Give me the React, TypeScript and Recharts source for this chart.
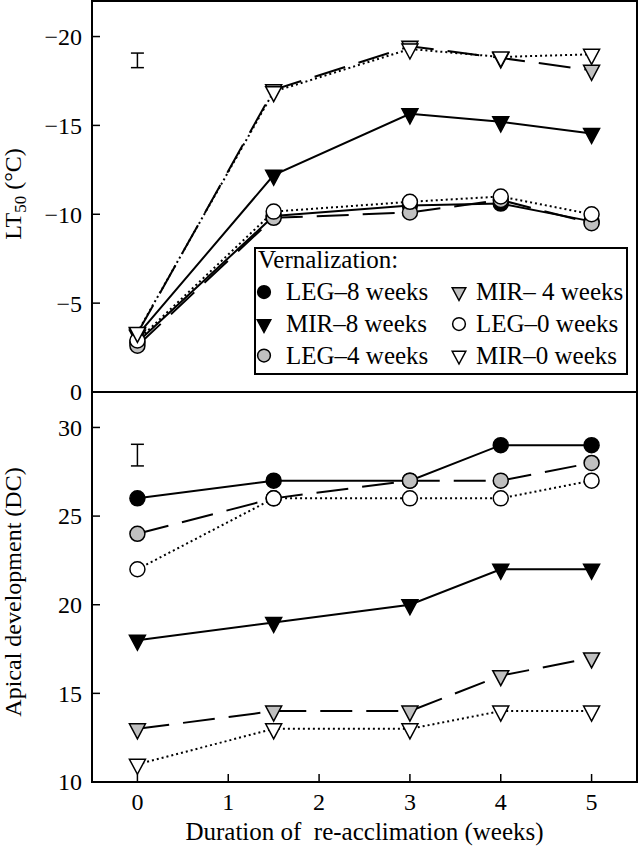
import React from 'react';
import { ComposedChart, Line, XAxis, YAxis, ReferenceArea, Scatter, ErrorBar, Legend } from 'recharts';

// ---- data ----
const weeks = [0, 1.5, 3, 4, 5];
const xTicks = [0, 1, 2, 3, 4, 5];
const seriesNames = ['LEG–8 weeks', 'MIR–8 weeks', 'LEG–4 weeks', 'MIR– 4 weeks', 'LEG–0 weeks', 'MIR–0 weeks'];
const legendTitle = 'Vernalization:';

// LT50 (°C)
const ltLEG8 = [-2.8, -9.9, -10.5, -10.6, -9.6];
const ltMIR8 = [-3.2, -12.2, -15.65, -15.2, -14.55];
const ltLEG4 = [-2.6, -9.8, -10.1, -10.8, -9.5];
const ltMIR4 = [-3.3, -17.0, -19.45, -18.8, -18.1];
const ltLEG0 = [-2.9, -10.15, -10.7, -11.0, -10.0];
const ltMIR0 = [-3.35, -16.9, -19.3, -18.85, -19.0];
const ltTicks = [0, -5, -10, -15, -20];
const ltErr = [{ x: 0, y: -18.66, err: 0.41 }];

// Apical development (DC)
const dcLEG8 = [26, 27, 27, 29, 29];
const dcMIR8 = [18, 19, 20, 22, 22];
const dcLEG4 = [24, 26, 27, 27, 28];
const dcMIR4 = [13, 14, 14, 16, 17];
const dcLEG0 = [22, 26, 26, 26, 27];
const dcMIR0 = [11, 13, 13, 14, 14];
const dcTicks = [10, 15, 20, 25, 30];
const dcErr = [{ x: 0, y: 28.44, err: 0.61 }];

const keys = ['leg8', 'mir8', 'leg4', 'mir4', 'leg0', 'mir0'];
const topSeries = [ltLEG8, ltMIR8, ltLEG4, ltMIR4, ltLEG0, ltMIR0];
const botSeries = [dcLEG8, dcMIR8, dcLEG4, dcMIR4, dcLEG0, dcMIR0];

const buildRows = (series: number[][]) =>
  weeks.map((w, i) => {
    const row: any = { x: w };
    keys.forEach((k, j) => (row[k] = series[j][i]));
    return row;
  });
const topRows = buildRows(topSeries);
const botRows = buildRows(botSeries);

// ---- styles ----
const FONT = '"Liberation Serif", "DejaVu Serif", serif';
const GRAY = '#c0c0c0';
const styles = [
  { shape: 'circle', fill: '#000', dash: undefined as string | undefined },
  { shape: 'tri', fill: '#000', dash: undefined },
  { shape: 'circle', fill: GRAY, dash: '32 14' },
  { shape: 'tri', fill: GRAY, dash: '32 14' },
  { shape: 'circle', fill: '#fff', dash: '2 3' },
  { shape: 'tri', fill: '#fff', dash: '2 3' },
];

const Marker = ({ cx, cy, shape, fill, s = 1 }: any) => {
  if (shape === 'circle') {
    return <circle cx={cx} cy={cy} r={7.5 * s} fill={fill} stroke="#000" strokeWidth={1.5} />;
  }
  const w = 8 * s, t = 5 * s, b = 10 * s;
  return (
    <path
      d={`M${cx - w},${cy - t}L${cx + w},${cy - t}L${cx},${cy + b}Z`}
      fill={fill}
      stroke="#000"
      strokeWidth={1.5}
    />
  );
};

const XTick = (props: any) => {
  const { x, y, payload, showLabel } = props;
  return (
    <g>
      <line x1={x} x2={x} y1={y} y2={y - 8} stroke="#000" strokeWidth={1.5} />
      {showLabel && (
        <text x={x} y={y + 28} textAnchor="middle" fontSize={24} fontFamily={FONT} fill="#000">
          {payload.value}
        </text>
      )}
    </g>
  );
};

const fmt = (v: number) => (v < 0 ? '\u2212' + Math.abs(v) : String(v));

const YTick = (props: any) => {
  const { x, y, payload } = props;
  return (
    <g>
      <line x1={x} x2={x + 8} y1={y} y2={y} stroke="#000" strokeWidth={1.5} />
      <text x={x - 10} y={y} dy="0.35em" textAnchor="end" fontSize={24} fontFamily={FONT} fill="#000">
        {fmt(payload.value)}
      </text>
    </g>
  );
};

const LegendBox = () => {
  const rows = [45, 77, 108.5];
  const cols = [
    { mx: 10, tx: 32 },
    { mx: 205, tx: 222 },
  ];
  return (
    <svg width={375} height={129} style={{ display: 'block' }}>
      <rect x={1} y={1} width={372} height={126} fill="#fff" stroke="#000" strokeWidth={2} />
      <text x={4} y={21} fontSize={25} fontFamily={FONT} fill="#000">
        {legendTitle}
      </text>
      {seriesNames.map((name, i) => {
        const col = cols[Math.floor(i / 3)];
        const ry = rows[i % 3];
        const st = styles[i];
        return (
          <g key={name}>
            <Marker cx={col.mx} cy={ry} shape={st.shape} fill={st.fill} s={0.85} />
            <text x={col.tx} y={ry + 8} fontSize={25} fontFamily={FONT} fill="#000" style={{ whiteSpace: 'pre' }}>
              {name}
            </text>
          </g>
        );
      })}
    </svg>
  );
};

const renderLines = () =>
  keys.map((k, i) => {
    const st = styles[i];
    return (
      <Line
        key={k}
        dataKey={k}
        stroke="#000"
        strokeWidth={2}
        strokeDasharray={st.dash}
        isAnimationActive={false}
        activeDot={false}
        legendType="none"
        dot={(p: any) => <Marker key={`${k}-${p.index}`} cx={p.cx} cy={p.cy} shape={st.shape} fill={st.fill} />}
      />
    );
  });

export default function App() {
  return (
    <div style={{ position: 'absolute', left: 0, top: 0, width: 640, height: 853, background: '#fff' }}>
      <div style={{ position: 'absolute', left: 0, top: 390 }}>
        <ComposedChart width={640} height={463} data={botRows} margin={{ top: 2, right: 3, bottom: 0, left: 0 }}>
          <XAxis
            dataKey="x"
            type="number"
            domain={[-0.5, 5.5]}
            ticks={xTicks}
            interval={0}
            allowDataOverflow
            height={71}
            axisLine={false}
            tickLine={false}
            tickSize={0}
            tickMargin={0}
            tick={(p: any) => <XTick {...p} showLabel />}
            label={{
              content: (lp: any) => {
                const vb = lp.viewBox || { x: 92, y: 392, width: 545 };
                return (
                  <text
                    x={vb.x + vb.width / 2}
                    y={vb.y + 58}
                    textAnchor="middle"
                    fontSize={25}
                    fontFamily={FONT}
                    fill="#000"
                    style={{ whiteSpace: 'pre' }}
                  >
                    Duration of  re-acclimation (weeks)
                  </text>
                );
              },
            }}
          />
          <YAxis
            type="number"
            domain={[10, 32]}
            ticks={dcTicks}
            interval={0}
            allowDataOverflow
            width={92}
            axisLine={false}
            tickLine={false}
            tickSize={0}
            tickMargin={0}
            tick={(p: any) => <YTick {...p} />}
            label={{
              content: () => (
                <text
                  x={21}
                  y={202}
                  transform="rotate(-90 21 202)"
                  textAnchor="middle"
                  fontSize={24}
                  fontFamily={FONT}
                  fill="#000"
                >
                  Apical development (DC)
                </text>
              ),
            }}
          />
          <ReferenceArea x1={-0.5} x2={5.5} y1={10} y2={32} fill="none" stroke="#000" strokeWidth={2} />
          <Scatter data={dcErr} dataKey="y" isAnimationActive={false} legendType="none" shape={() => <g />}>
            <ErrorBar dataKey="err" direction="y" width={6.5} stroke="#000" strokeWidth={1.5} isAnimationActive={false} />
          </Scatter>
          {renderLines()}
        </ComposedChart>
      </div>
      <div style={{ position: 'absolute', left: 0, top: 0 }}>
        <ComposedChart width={640} height={406} data={topRows} margin={{ top: 1, right: 3, bottom: 14, left: 0 }}>
          <XAxis
            dataKey="x"
            type="number"
            domain={[-0.5, 5.5]}
            ticks={xTicks}
            interval={0}
            allowDataOverflow
            height={0}
            axisLine={false}
            tickLine={false}
            tickSize={0}
            tickMargin={0}
            tick={(p: any) => <XTick {...p} showLabel={false} />}
          />
          <YAxis
            type="number"
            domain={[-22, 0]}
            reversed
            ticks={ltTicks}
            interval={0}
            allowDataOverflow
            width={92}
            axisLine={false}
            tickLine={false}
            tickSize={0}
            tickMargin={0}
            tick={(p: any) => <YTick {...p} />}
            label={{
              content: () => (
                <text
                  x={21}
                  y={194}
                  transform="rotate(-90 21 194)"
                  textAnchor="middle"
                  fontSize={24}
                  fontFamily={FONT}
                  fill="#000"
                >
                  LT<tspan dy={5} fontSize={17}>50</tspan>
                  <tspan dy={-5}> (°C)</tspan>
                </text>
              ),
            }}
          />
          <ReferenceArea x1={-0.5} x2={5.5} y1={-22} y2={0} fill="none" stroke="#000" strokeWidth={2} />
          <Scatter data={ltErr} dataKey="y" isAnimationActive={false} legendType="none" shape={() => <g />}>
            <ErrorBar dataKey="err" direction="y" width={6.5} stroke="#000" strokeWidth={1.5} isAnimationActive={false} />
          </Scatter>
          {renderLines()}
          <Legend
            layout="vertical"
            verticalAlign="middle"
            align="center"
            wrapperStyle={{ left: 254, top: 247, width: 375, height: 129 }}
            content={() => <LegendBox />}
          />
        </ComposedChart>
      </div>
    </div>
  );
}
